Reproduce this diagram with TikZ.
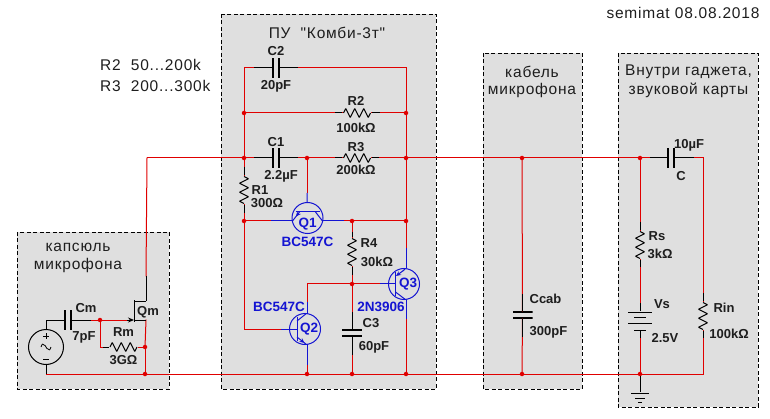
\documentclass[tikz,border=0pt]{standalone}
\usepackage{fontspec}
\setmainfont{Liberation Sans}
\newfontfamily\spacedfont[LetterSpace=5]{Liberation Sans}
\usetikzlibrary{positioning, arrows.meta}

\definecolor{boxgrey}{HTML}{DFDFDF}
\definecolor{wirered}{HTML}{E00000}
\definecolor{qblue}{HTML}{1414D2}
\definecolor{inkblack}{HTML}{1E1E1E}

\tikzset{
  wire/.style={draw=wirered, line width=1pt, line cap=rect},
  lead/.style={draw=black, line width=1pt},
  qlead/.style={draw=qblue, line width=1pt},
  panel/.style={draw=black, dash pattern=on 4pt off 2.5pt, fill=boxgrey, line width=0.9pt},
  junction/.style={circle, fill=wirered, inner sep=0pt, minimum size=4.5pt},
  lbl/.style={font=\bfseries\fontsize{13}{13}\selectfont, text=inkblack, inner sep=0pt},
  qlbl/.style={font=\bfseries\fontsize{13.5}{13.5}\selectfont, text=qblue, inner sep=0pt},
  title/.style={font=\spacedfont\fontsize{15.5}{15.5}\selectfont, text=inkblack, inner sep=0pt},
  % components as nodes, their symbol lies in the path picture
  reshor/.style={inner sep=0pt, minimum width=29pt, minimum height=11pt, path picture={
    \draw[lead, line join=bevel] ([xshift=1pt]path picture bounding box.west) -- ++(2.25pt,4.5pt) -- ++(4.5pt,-9pt)
      -- ++(4.5pt,9pt) -- ++(4.5pt,-9pt) -- ++(4.5pt,9pt) -- ++(4.5pt,-9pt) -- ++(2.25pt,4.5pt);}},
  resver/.style={inner sep=0pt, minimum width=11pt, minimum height=29pt, path picture={
    \draw[lead, line join=bevel] ([yshift=-1pt]path picture bounding box.north) -- ++(4.5pt,-2.25pt) -- ++(-9pt,-4.5pt)
      -- ++(9pt,-4.5pt) -- ++(-9pt,-4.5pt) -- ++(9pt,-4.5pt) -- ++(-9pt,-4.5pt) -- ++(4.5pt,-2.25pt);}},
  caphor/.style={inner sep=0pt, minimum width=8pt, minimum height=20pt, path picture={
    \fill[black] (path picture bounding box.south west) rectangle ++(2.2pt,20pt);
    \fill[black] (path picture bounding box.south east) rectangle ++(-2.2pt,20pt);}},
  capver/.style={inner sep=0pt, minimum width=20pt, minimum height=8pt, path picture={
    \fill[black] (path picture bounding box.south west) rectangle ++(20pt,2.2pt);
    \fill[black] (path picture bounding box.north west) rectangle ++(20pt,-2.2pt);}},
  qbody/.style={circle, draw=qblue, line width=1pt, inner sep=0pt, minimum size=31pt},
  qone/.style={qbody, path picture={
    \draw[qlead] ([shift={(-12pt,6pt)}]path picture bounding box.center) -- ++(24pt,0pt);
    \draw[qlead] ([shift={(8pt,6pt)}]path picture bounding box.center) -- ++(7pt,-9pt);
    \draw[qlead] ([shift={(-8pt,6pt)}]path picture bounding box.center) -- ++(-7pt,-9pt);
    \draw[qlead, -{Stealth[length=5pt,width=4.5pt]}] ([shift={(-9pt,4.7pt)}]path picture bounding box.center) -- ++(-2.5pt,-3.2pt);}},
  qtwo/.style={qbody, path picture={
    \draw[qlead] ([shift={(-8pt,12pt)}]path picture bounding box.center) -- ++(0pt,-24pt);
    \draw[qlead] ([shift={(-8pt,8pt)}]path picture bounding box.center) -- ++(10pt,8pt);
    \draw[qlead, -{Stealth[length=5pt,width=4.5pt]}] ([shift={(-8pt,-8pt)}]path picture bounding box.center) -- ++(7.5pt,-6pt);
    \draw[qlead] ([shift={(-1pt,-13.5pt)}]path picture bounding box.center) -- ++(3pt,-2.5pt);}},
  qthree/.style={qbody, path picture={
    \draw[qlead] ([shift={(-9pt,12pt)}]path picture bounding box.center) -- ++(0pt,-24pt);
    \draw[qlead] ([shift={(-8.5pt,-8pt)}]path picture bounding box.center) -- ++(10.5pt,-8pt);
    \draw[qlead] ([shift={(2pt,16pt)}]path picture bounding box.center) -- ++(-3pt,-3pt);
    \draw[qlead, -{Stealth[length=5pt,width=4.5pt]}] ([shift={(0pt,14pt)}]path picture bounding box.center) -- ++(-8pt,-6pt);}},
  acsource/.style={circle, draw=black, line width=1pt, inner sep=0pt, minimum size=35pt, path picture={
    \draw[lead] ([shift={(-3pt,11pt)}]path picture bounding box.center) -- ++(6pt,0pt);
    \draw[lead] ([shift={(0pt,14pt)}]path picture bounding box.center) -- ++(0pt,-6pt);
    \draw[lead] ([shift={(-3pt,-12pt)}]path picture bounding box.center) -- ++(6pt,0pt);
    \draw[draw=black, line width=0.8pt] ([xshift=-5pt]path picture bounding box.center)
      .. controls +(2pt,5pt) and +(-2pt,0pt) .. ++(3pt,2pt)
      .. controls +(2pt,0pt) and +(-2pt,0pt) .. ++(4pt,-4pt)
      .. controls +(2pt,0pt) and +(-2pt,-5pt) .. ++(3pt,2pt);}},
  battery/.style={inner sep=0pt, minimum width=25pt, minimum height=20pt, path picture={
    \draw[lead] ([yshift=9pt]path picture bounding box.center) ++(-12pt,0pt) -- ++(24pt,0pt);
    \draw[lead] ([yshift=4pt]path picture bounding box.center) ++(-6pt,0pt) -- ++(12pt,0pt);
    \draw[lead] ([yshift=-2pt]path picture bounding box.center) ++(-12pt,0pt) -- ++(24pt,0pt);
    \draw[lead] ([yshift=-9pt]path picture bounding box.center) ++(-6pt,0pt) -- ++(12pt,0pt);}},
  groundsym/.style={inner sep=0pt, minimum width=20pt, minimum height=12pt, path picture={
    \draw[lead] ([yshift=5pt]path picture bounding box.center) ++(-9pt,0pt) -- ++(18pt,0pt);
    \draw[lead] ([yshift=0pt]path picture bounding box.center) ++(-5pt,0pt) -- ++(10pt,0pt);
    \draw[lead] ([yshift=-4pt]path picture bounding box.center) ++(-2pt,0pt) -- ++(4pt,0pt);}},
}

\begin{document}
\begin{tikzpicture}[x=1pt, y=-1pt, on grid]

      \useasboundingbox (0,0) rectangle (770,419);

      % Grey panels
      \filldraw[panel] (221,14) rectangle (436,389);
      \filldraw[panel] (17,232) rectangle (169,389);
      \filldraw[panel] (483,53) rectangle (582,389);
      \filldraw[panel] (618,53) rectangle (758,407);

      % Free text
      \node[title] (tpu) at (327,33) {ПУ\ \ "Комби-3т"};
      \node[title, anchor=west] (tr2) at (100,65) {R2\ \ 50...200k};
      \node[title, anchor=west] (tr3) at (100,86) {R3\ \ 200...300k};
      \node[title] (tstamp) at (683,13) {semimat 08.08.2018};
      \node[title] (tcab1) at (532,72) {кабель};
      \node[title] (tcab2) [below=18pt of tcab1] {микрофона};
      \node[title] (tgad1) at (688.5,72) {Внутри гаджета,};
      \node[title] (tgad2) [below=18pt of tgad1] {звуковой карты};
      \node[title] (tcap1) at (78,247) {капсюль};
      \node[title] (tcap2) [below=18pt of tcap1] {микрофона};

      % Junctions of the main lines
      \coordinate (start) at (147,158);
      \node[junction] (j1) at (244,158) {};
      \node[junction] (j2) [right=63pt of j1] {};
      \node[junction] (j3) [right=162pt of j1] {};
      \node[junction] (j4) [right=278pt of j1] {};
      \node[junction] (j5) [right=396pt of j1] {};
      \coordinate (gndl) at (46,374);
      \node[junction] (b1) at (145,374) {};
      \node[junction] (b2) [right=162pt of b1] {};
      \node[junction] (b3) [right=207pt of b1] {};
      \node[junction] (b4) [right=261pt of b1] {};
      \node[junction] (b5) [right=377pt of b1] {};
      \node[junction] (b6) [right=495pt of b1] {};
      \coordinate (gndr) at (703,374);
      \node[junction] (m1) [above=45pt of j1] {};
      \node[junction] (m2) [above=45pt of j3] {};
      \coordinate (tl) at (244,68);
      \coordinate (tr) at (406,68);
      \coordinate (cr2) at (703,158);
      \node[junction] (n1) at (244,221) {};
      \node[junction] (n2) at (352,221) {};
      \node[junction] (n3) at (406,221) {};
      \node[junction] (n4) at (352,284) {};
      \coordinate (q2top) at (307,284);
      \coordinate (q2left) at (244,329);

      % Capacitors and resistors
      \node[caphor] (C2) at (276,68) {};
      \node[above=17pt of C2, lbl] (lc2) {C2};
      \node[below=18pt of C2, lbl] (vc2) {20pF};
      \node[reshor] (R2) at (357,113) {};
      \node[above left=12pt and 1pt of R2, lbl] (lr2) {R2};
      \node[below left=15pt and 1pt of R2, lbl] (vr2) {100kΩ};
      \node[caphor] (C1) at (276,158) {};
      \node[above=16pt of C1, lbl] (lc1) {C1};
      \node[below right=18pt and 5pt of C1, lbl] (vc1) {2.2µF};
      \node[reshor] (R3) at (357,158) {};
      \node[above left=11pt and 1pt of R3, lbl] (lr3) {R3};
      \node[below left=12pt and 1pt of R3, lbl] (vr3) {200kΩ};
      \node[resver] (R1) at (244,190) {};
      \node[right=16pt of R1, lbl] (lr1) {R1};
      \node[below right=13pt and 23pt of R1, lbl] (vr1) {300Ω};
      \node[resver] (R4) at (352,252) {};
      \node[above right=9pt and 17pt of R4, lbl] (lr4) {R4};
      \node[below right=10pt and 25pt of R4, lbl] (vr4) {30kΩ};
      \node[capver] (C3) at (352,333) {};
      \node[above right=10pt and 19pt of C3, lbl] (lc3) {C3};
      \node[below right=14pt and 22pt of C3, lbl] (vc3) {60pF};
      \node[caphor] (Cm) at (68,320) {};
      \node[above right=12pt and 18pt of Cm, lbl] (lcm) {Cm};
      \node[below right=17pt and 16pt of Cm, lbl] (vcm) {7pF};
      \node[reshor] (Rm) at (123.5,347) {};
      \node[above=15pt of Rm, lbl] (lrm) {Rm};
      \node[below=13pt of Rm, lbl] (vrm) {3GΩ};
      \node[capver] (Ccab) at (522.5,315) {};
      \node[above right=16pt and 23pt of Ccab, lbl] (lcab) {Ccab};
      \node[below right=17pt and 26pt of Ccab, lbl] (vcab) {300pF};
      \node[caphor] (C) at (671,158) {};
      \node[above right=13pt and 18pt of C, lbl] (vcc) {10µF};
      \node[below right=18pt and 10pt of C, lbl] (lcc) {C};
      \node[resver] (Rs) at (640,245) {};
      \node[above right=9pt and 17pt of Rs, lbl] (lrs) {Rs};
      \node[below right=9pt and 20pt of Rs, lbl] (vrs) {3kΩ};
      \node[resver] (Rin) at (703,316) {};
      \node[above right=8pt and 21pt of Rin, lbl] (lrin) {Rin};
      \node[below right=18pt and 26pt of Rin, lbl] (vrin) {100kΩ};
      \node[battery] (Vs) at (640,321) {};
      \node[above right=17pt and 22pt of Vs, lbl] (lvs) {Vs};
      \node[below right=17pt and 25pt of Vs, lbl] (vvs) {2.5V};
      \node[groundsym] (gnd) at (640,398) {};
      \node[acsource] (vin) at (46,347) {};

      % Transistors
      \node[qone] (Q1) at (307.5,218) {};
      \node[below=6pt of Q1, qlbl] (lq1) {Q1};
      \node[below=24pt of Q1, qlbl] (tq1) {BC547C};
      \node[qtwo] (Q2) at (305,329) {};
      \node[right=4pt of Q2, qlbl] (lq2) {Q2};
      \node[above left=22pt and 26pt of Q2, qlbl] (tq2) {BC547C};
      \node[qthree] (Q3) at (404,284) {};
      \node[right=4pt of Q3, qlbl] (lq3) {Q3};
      \node[below left=23pt and 23pt of Q3, qlbl] (tq3) {2N3906};

      % Points where the colour of a wire changes
      \coordinate (q1top) at (307,193);
      \coordinate (q1el) at (271,221);
      \coordinate (q1er) at (293,221);
      \coordinate (q1cl) at (322,221);
      \coordinate (q1cr) at (344,221);
      \coordinate (q2b) at (281,329);
      \coordinate (q2bi) at (297,329);
      \coordinate (q2c) at (307,302);
      \coordinate (q2ci) at (307,314);
      \coordinate (q2e) at (307,365);
      \coordinate (q2ei) at (307,344);
      \coordinate (q3b) at (380,284);
      \coordinate (q3bi) at (395,284);
      \coordinate (q3e) at (406,248);
      \coordinate (q3ei) at (406,268);
      \coordinate (q3c) at (406,319);
      \coordinate (q3ci) at (406,300);

      % Microphone FET
      \coordinate (drain) at (146,301);
      \coordinate (drainup) at (146,276);
      \coordinate (source) at (146,320);
      \coordinate (chtop) at (134,300);
      \coordinate (chbot) at (134,322);
      \coordinate (chd) at (134,301);
      \coordinate (chs) at (134,320);
      \coordinate (gate) at (127,320);
      \node[junction] (jg) at (100,320) {};
      \node[junction] (jr) at (145,347) {};
      \coordinate (rmcorner) at (100,347);
      \coordinate (cmcorner) at (46,320);
      \node[lbl] (lqm) at (148,312) {Qm};

      % Red wires
      \path[wire]
        (start) edge (j1)
        (j1) edge (C1)
        (C1) edge (j2)
        (j2) edge (R3)
        (R3) edge (j3)
        (j3) edge (j4)
        (j4) edge (j5)
        (j5) edge (C)
        (start) edge (drainup)
        (j1) edge (m1)
        (m1) edge (tl)
        (tl) edge (C2)
        (C2) edge (tr)
        (tr) edge (m2)
        (m2) edge (j3)
        (m1) edge (R2)
        (R2) edge (m2)
        (j3) edge (n3)
        (n3) edge (q3e)
        (j2) edge (q1top)
        (q1cr) edge (n2)
        (n2) edge (n3)
        (j1) edge (R1)
        (R1) edge (n1)
        (n1) edge (q1el)
        (n1) edge (q2left)
        (q2left) edge (q2b)
        (n2) edge (R4)
        (R4) edge (n4)
        (n4) edge (q3b)
        (n4) edge (q2top)
        (q2top) edge (q2c)
        (n4) edge (C3)
        (C3) edge (b3)
        (q2e) edge (b2)
        (q3c) edge (b4)
        (gndl) edge (b1)
        (b1) edge (b2)
        (b2) edge (b3)
        (b3) edge (b4)
        (b4) edge (b5)
        (b5) edge (b6)
        (b6) edge (gndr)
        (j4) edge (Ccab)
        (Ccab) edge (b5)
        (j5) edge (Rs)
        (Rs) edge (Vs)
        (Vs) edge (b6)
        (C) edge (cr2)
        (cr2) edge (Rin)
        (gndr) edge (Rin)
        (source) edge (jr)
        (jr) edge (b1)
        (Cm) edge (jg)
        (jg) edge (gate)
        (jg) edge (rmcorner)
        (rmcorner) edge (Rm)
        (Rm) edge (jr);

      % Black component leads, drawn over the wires
      \coordinate (c2l) at (254,68);
      \coordinate (c2r) at (298,68);
      \coordinate (c1l) at (254,158);
      \coordinate (c1r) at (298,158);
      \coordinate (cl) at (650,158);
      \coordinate (cr) at (694,158);
      \coordinate (cml) at (91,320);
      \coordinate (r1t) at (244,167);
      \coordinate (r1b) at (244,213);
      \coordinate (r4t) at (352,232);
      \coordinate (r4b) at (352,275);
      \coordinate (c3t) at (352,312);
      \coordinate (c3b) at (352,355);
      \coordinate (cct) at (522.5,294);
      \coordinate (ccb) at (522.5,337);
      \coordinate (rst) at (640,222);
      \coordinate (rsb) at (640,267);
      \coordinate (vst) at (640,303);
      \coordinate (vsb) at (640,338);
      \coordinate (rit) at (703,293);
      \coordinate (rib) at (703,338);
      \coordinate (r2l) at (335,113);
      \coordinate (r2r) at (380,113);
      \coordinate (r3l) at (335,158);
      \coordinate (r3r) at (379,158);
      \coordinate (rml) at (103,347);
      \coordinate (vinb) at (46,374);
      \path[lead]
        (c2l) edge (C2) (C2) edge (c2r)
        (c1l) edge (C1) (C1) edge (c1r)
        (cl) edge (C) (C) edge (cr)
        (cmcorner) edge (Cm) (Cm) edge (cml)
        (vin) edge (cmcorner)
        (vin) edge (vinb)
        (r1t) edge (R1) (R1) edge (r1b)
        (r4t) edge (R4) (R4) edge (r4b)
        (c3t) edge (C3) (C3) edge (c3b)
        (cct) edge (Ccab) (Ccab) edge (ccb)
        (rst) edge (Rs) (Rs) edge (rsb)
        (vst) edge (Vs) (Vs) edge (vsb)
        (rit) edge (Rin) (Rin) edge (rib)
        (r2l) edge (R2) (R2) edge (r2r)
        (r3l) edge (R3) (R3) edge (r3r)
        (rml) edge (Rm)
        (b6) edge (gnd)
        (drainup) edge (drain)
        (drain) edge (chd)
        (chs) edge (source)
        (chtop) edge (chbot);
      \draw[lead, -{Stealth[length=6pt,width=5pt]}] (gate) -- (chs);

      % Blue transistor leads
      \path[qlead]
        (q1top) edge (Q1)
        (q1el) edge (q1er)
        (q1cl) edge (q1cr)
        (q2b) edge (q2bi)
        (q2c) edge (q2ci)
        (q2e) edge (q2ei)
        (q3b) edge (q3bi)
        (q3e) edge (q3ei)
        (q3c) edge (q3ci);

\end{tikzpicture}
\end{document}
